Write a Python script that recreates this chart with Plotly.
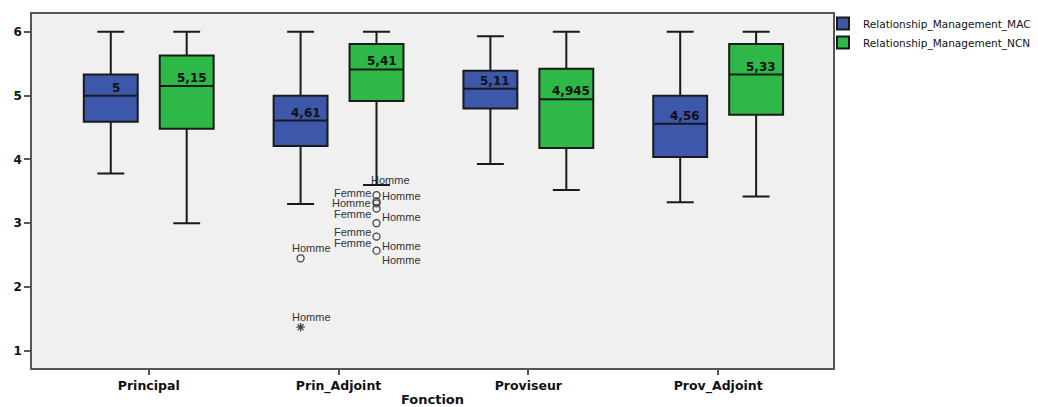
import plotly.graph_objects as go

categories = ["Principal", "Prin_Adjoint", "Proviseur", "Prov_Adjoint"]
series_names = ["Relationship_Management_MAC", "Relationship_Management_NCN"]

mac_lower = [3.78, 3.30, 3.93, 3.33]
mac_q1 = [4.59, 4.21, 4.80, 4.04]
mac_median = [5.0, 4.61, 5.11, 4.56]
mac_q3 = [5.33, 5.0, 5.39, 5.0]
mac_upper = [6.0, 6.0, 5.93, 6.0]

ncn_lower = [3.0, 3.60, 3.52, 3.42]
ncn_q1 = [4.48, 4.915, 4.18, 4.70]
ncn_median = [5.15, 5.41, 4.945, 5.33]
ncn_q3 = [5.63, 5.81, 5.42, 5.81]
ncn_upper = [6.0, 6.0, 6.0, 6.0]

median_labels_mac = ["5", "4,61", "5,11", "4,56"]
median_labels_ncn = ["5,15", "5,41", "4,945", "5,33"]

# outliers (category index, series index, value, symbol)
outlier_cat = [1, 1, 1, 1, 1, 1, 1, 1, 1]
outlier_series = [0, 0, 1, 1, 1, 1, 1, 1, 1]
outlier_value = [2.45, 1.37, 3.44, 3.34, 3.31, 3.23, 3.00, 2.79, 2.57]
outlier_kind = ["o", "*", "o", "o", "o", "o", "o", "o", "o"]

# outlier labels: (outlier index, text, side, vertical shift in px)
label_outlier = [0, 1, 2, 4, 5, 7, 8, 2, 2, 6, 8, 8]
label_text = ["Homme", "Homme", "Femme", "Homme", "Femme", "Femme", "Femme",
              "Homme", "Homme", "Homme", "Homme", "Homme"]
label_side = ["c", "c", "l", "l", "l", "l", "l", "t", "r", "r", "r", "r"]
label_dy = [10, 10, 2, 0, -5, 5, 8, 15, -1, 6, 5, -9]

BLUE = "#3d57aa"
GREEN = "#2eb848"
BOXGAP = 0.2
BOXGROUPGAP = 0.29
offsets = [-(1 - BOXGAP) / 4, (1 - BOXGAP) / 4]

W, H = 1038, 407
xs = list(range(len(categories)))
fig = go.Figure()

stats = [
    (mac_lower, mac_q1, mac_median, mac_q3, mac_upper, BLUE),
    (ncn_lower, ncn_q1, ncn_median, ncn_q3, ncn_upper, GREEN),
]
for name, (lo, q1, med, q3, up, col) in zip(series_names, stats):
    fig.add_trace(go.Box(
        name=name, x=xs, lowerfence=lo, q1=q1, median=med, q3=q3, upperfence=up,
        fillcolor=col, line=dict(color="#1a1a1a", width=2), whiskerwidth=0.5,
        boxpoints=False, hoverinfo="skip",
    ))

ox = [outlier_cat[i] + offsets[outlier_series[i]] for i in range(len(outlier_value))]
fig.add_trace(go.Scatter(
    x=ox, y=outlier_value, mode="markers", showlegend=False, hoverinfo="skip",
    marker=dict(
        symbol=["circle-open" if k == "o" else "asterisk-open" for k in outlier_kind],
        size=7,
        color="#444444", line=dict(width=1.3, color="#444444"),
    ),
))

# median labels
for s, labels, meds in [(0, median_labels_mac, mac_median), (1, median_labels_ncn, ncn_median)]:
    for i, (t, m) in enumerate(zip(labels, meds)):
        fig.add_annotation(
            x=xs[i] + offsets[s], y=m, text=f"<b>{t}</b>", showarrow=False,
            xanchor="center", yanchor="middle", xshift=5, yshift=8,
            font=dict(family="DejaVu Sans", size=12, color="#111111"),
        )

# outlier labels
for oi, t, side, dy in zip(label_outlier, label_text, label_side, label_dy):
    x = ox[oi]
    y = outlier_value[oi]
    if side == "l":
        xa, xs_ = "right", -4
    elif side == "r":
        xa, xs_ = "left", 3
    elif side == "t":
        xa, xs_ = "left", -8
    else:
        xa, xs_ = "center", 11
    fig.add_annotation(
        x=x, y=y, text=t, showarrow=False, xanchor=xa, yanchor="middle",
        xshift=xs_, yshift=dy,
        font=dict(family="Liberation Sans", size=11, color="#333333"),
    )

fig.update_layout(
    width=W, height=H,
    margin=dict(l=32, r=205, t=14, b=39, autoexpand=False),
    paper_bgcolor="white", plot_bgcolor="#f0f0f0",
    boxmode="group", boxgap=BOXGAP, boxgroupgap=BOXGROUPGAP,
    showlegend=True,
    legend=dict(
        x=823 / W, xref="container", xanchor="left", y=1 - 9 / H, yanchor="top",
        yref="container",
        font=dict(family="DejaVu Sans", size=10.5, color="#111111"),
        bgcolor="rgba(0,0,0,0)", itemwidth=30, tracegroupgap=0,
    ),
    xaxis=dict(
        range=[-0.615, 3.605], tickmode="array", tickvals=xs, ticktext=categories,
        showgrid=False, zeroline=False, showline=True, mirror=True,
        linecolor="#555555", linewidth=1.5, ticks="outside", ticklen=5,
        tickcolor="#555555", tickwidth=1.5,
        tickfont=dict(family="DejaVu Sans", size=12.5, color="#111111", weight="bold"),
        title=dict(text="<b>Fonction</b>", standoff=15,
                   font=dict(family="DejaVu Sans", size=13, color="#111111")),
    ),
    yaxis=dict(
        range=[0.73, 6.28], tickvals=[1, 2, 3, 4, 5, 6],
        showgrid=False, zeroline=False, showline=True, mirror=True,
        linecolor="#555555", linewidth=1.5, ticks="outside", ticklen=6,
        tickcolor="#555555", tickwidth=1.5,
        tickfont=dict(family="DejaVu Sans", size=12, color="#111111", weight="bold"),
    ),
)

fig.write_html(
    "out.html",
    config={"displayModeBar": False},
    post_script="document.body.style.margin='0';document.body.style.overflow='hidden';",
)
